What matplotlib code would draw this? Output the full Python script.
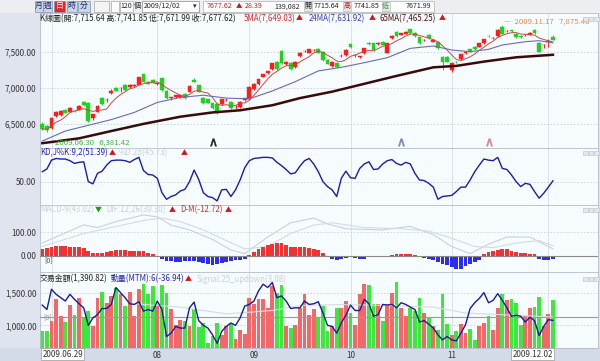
import matplotlib
matplotlib.use('Agg')
import matplotlib.pyplot as plt
import numpy as np
import pandas as pd
from matplotlib.patches import Rectangle

plt.rcParams['font.family'] = ['Noto Sans CJK TC', 'DejaVu Sans']

W, H = 600, 361

# ---------------- data ----------------
opens = [6498,6470,6438,6610,6620,6694,6670,6685,6694,6810,
         6796,6578,6670,6866,6835,6927,6997,7000,7043,7010,
         7035,7043,7193,7080,7110,7060,7137,6964,6865,6870,
         6875,6920,6950,7113,7043,6857,6843,6787,6778,6778,
         6835,6810,6735,6730,6834,6848,6983,7057,7160,7206,
         7262,7369,7522,7335,7355,7290,7448,7520,7495,7528,
         7541,7509,7392,7308,7355,7445,7462,7611,7460,7437,
         7486,7634,7625,7622,7648,7495,7695,7788,7742,7756,
         7821,7775,7709,7670,7742,7649,7649,7439,7439,7253,
         7369,7402,7493,7541,7579,7579,7625,7730,7698,7728,
         7860,7798,7802,7756,7728,7740,7742,7812,7634,7600,
         7644,7715.64]
highs = [6530,6490,6590,6680,6690,6705,6730,6700,6760,6820,
         6800,6640,6760,6880,6860,6990,7010,7015,7060,7060,
         7055,7155,7200,7100,7120,7075,7140,6970,6880,6905,
         6910,6930,7040,7140,7050,6870,6850,6795,6785,6850,
         6855,6820,6760,6815,6865,7025,7065,7130,7200,7245,
         7350,7380,7530,7375,7365,7375,7500,7535,7550,7545,
         7555,7515,7400,7375,7360,7470,7540,7620,7480,7455,
         7560,7645,7630,7640,7655,7630,7735,7795,7770,7795,
         7830,7785,7715,7690,7750,7680,7655,7445,7450,7350,
         7375,7480,7505,7550,7590,7630,7690,7745,7715,7820,
         7875.46,7815,7815,7770,7740,7755,7780,7830,7640,7620,
         7690,7741.85]
lows = [6420,6381.42,6430,6600,6610,6645,6660,6665,6690,6755,
        6530,6560,6665,6770,6800,6920,6955,6950,6965,7000,
        7020,7040,7085,7055,7065,7040,6965,6850,6830,6860,
        6865,6850,6945,7085,6940,6780,6790,6710,6640,6770,
        6820,6710,6710,6725,6825,6845,6975,7050,7150,7200,
        7255,7255,7340,7325,7255,7285,7440,7505,7490,7515,
        7490,7385,7330,7300,7275,7430,7455,7565,7440,7425,
        7480,7605,7525,7605,7595,7490,7690,7720,7735,7750,
        7760,7720,7620,7655,7690,7640,7550,7250,7360,7230,
        7350,7395,7480,7500,7535,7570,7620,7715,7690,7720,
        7750,7785,7790,7700,7700,7730,7735,7760,7500,7560,
        7580,7671.99]
closes = [6430,6415,6578,6666,6680,6652,6718,6680,6750,6764,
          6544,6634,6750,6778,6840,6960,6964,7005,6973,7050,
          7040,7150,7090,7060,7070,7062,6973,6857,6870,6900,
          6905,6860,7030,7090,6950,6787,6797,6717,6647,6843,
          6840,6717,6740,6810,6857,7020,7057,7122,7197,7240,
          7346,7262,7346,7369,7262,7369,7495,7523,7541,7530,
          7495,7392,7337,7369,7299,7448,7532,7569,7462,7439,
          7555,7611,7532,7625,7602,7625,7728,7728,7765,7788,
          7765,7728,7625,7672,7695,7672,7555,7369,7369,7346,
          7360,7476,7495,7509,7541,7625,7681,7728,7702,7812,
          7756,7800,7800,7709,7709,7742,7775,7765,7509,7602,
          7662,7677.62]

ma24_idx = [0, 5, 10, 15, 20, 25, 30, 35, 40, 45, 50, 55, 60, 65, 70, 75,
            80, 85, 89, 93, 97, 100, 105, 108, 111]
ma24_val = [6260, 6400, 6480, 6560, 6660, 6800, 6870, 6900, 6860, 6850, 6960,
            7090, 7240, 7290, 7355, 7425, 7555, 7588, 7532, 7509, 7541, 7602,
            7648, 7662, 7631.92]
ma65_idx = [0, 8, 15, 22, 30, 37, 43, 50, 56, 63, 70, 77, 85, 90, 96, 103, 111]
ma65_val = [6230, 6298, 6400, 6500, 6600, 6660, 6690, 6760, 6860, 6950, 7060,
            7170, 7290, 7310, 7370, 7430, 7465.25]

k_vals = [68,73,89,92,91,91,88,83,85,86,
          50,46,65,69,80,88,89,89,88,85,
          90,94,70,63,62,56,30,18,23,26,
          33,36,50,71,54,30,23,21,15,35,
          36,23,35,53,75,88,92,93,94,94,
          93,85,79,72,64,66,78,88,92,82,
          68,50,41,35,23,56,69,57,56,74,
          82,86,72,73,82,88,90,83,80,85,
          82,65,53,52,47,40,18,23,24,25,
          32,40,40,53,68,80,91,89,88,94,
          74,72,62,50,41,47,45,32,20,29,
          40,51.39]

osc_vals = [28,32,37,42,43,42,40,37,37,35,
            21,14,13,14,16,20,25,25,25,23,
            21,21,20,12,8,-2,-14,-20,-22,-24,
            -24,-22,-20,-22,-26,-30,-34,-36,-33,-30,
            -25,-22,-18,-16,-12,5,15,28,38,46,
            52,54,53,46,40,37,37,37,35,30,
            24,14,-4,-14,-15,-14,-9,-6,-10,-11,
            -11,-2,-1,0,-1,0,4,8,10,10,
            8,4,-5,-8,-12,-18,-25,-32,-40,-48,
            -55,-53,-44,-33,-24,-16,8,16,22,26,
            30,28,22,16,12,11,10,8,-14,-16,
            -15,-12.72]
dif_idx = [0, 9, 12, 16, 22, 25, 28, 32, 37, 41, 44, 49, 54, 59, 62, 66,
           74, 80, 85, 89, 93, 97, 101, 106, 111]
dif_val = [55, 131, 120, 145, 173, 165, 130, 110, 70, 25, 10, 80, 140, 160,
           135, 115, 110, 125, 90, 40, 10, 50, 80, 80, 30.30]
sig_idx = [0, 9, 15, 22, 26, 30, 35, 40, 44, 49, 54, 59, 63, 70, 78, 84,
           89, 94, 98, 103, 108, 111]
sig_val = [40, 95, 120, 150, 160, 145, 110, 65, 30, 40, 95, 130, 140, 120,
           115, 105, 75, 40, 35, 55, 65, 43.02]

volume = [906,906,1064,1405,1142,1053,1316,1169,1422,1117,
          1221,995,1422,1526,1353,1459,1589,1484,1301,1526,
          1142,1563,1642,1484,1616,1306,1631,1511,1248,1012,
          1090,1064,985,1248,969,1037,727,832,1037,853,
          995,1037,790,933,865,1432,1337,1405,1405,1266,
          1616,1510,1631,985,958,1012,1274,1494,1159,1248,
          1127,1301,906,985,1274,1274,1380,1196,1001,1494,
          1647,1631,1327,1327,1074,1337,1511,1674,1264,1142,
          1274,1221,1422,1196,1117,985,933,1484,1022,853,
          906,1022,880,948,774,985,1037,1142,921,1264,
          1494,1390,1405,1343,1012,1142,1274,1285,1448,985,
          1179,1390.82]
mtm = [144,92,332,272,232,192,272,212,160,112,
       -96,-8,32,104,104,152,352,292,232,160,
       152,184,72,92,72,192,92,-228,-188,-108,
       -128,-128,112,180,-40,-96,-128,-208,-308,-168,
       -108,-68,-96,-8,132,152,192,312,392,352,
       412,232,252,192,104,112,112,192,152,160,
       184,52,-96,-108,-188,-68,24,144,80,80,
       212,160,12,32,152,144,152,112,172,152,
       120,92,-56,-40,-80,-128,-208,-268,-228,-268,
       -280,-188,-88,104,172,224,292,172,200,280,
       200,112,12,24,12,-56,0,-40,-216,-108,
       -28,-36.94]
mtm_sig_idx = [20, 30, 40, 50, 56, 65, 75, 85, 92, 100, 111]
mtm_sig_val = [160, 120, 40, 80, 140, 150, 140, 120, 50, 30, 3.08]

grid_idx = [2, 25, 45, 67, 89, 110]
month_idx = [25, 46, 67, 89]
month_labels = ['08', '09', '10', '11']
first_label, last_label = '2009.06.29', '2009.12.02'
signal_idx = [37, 78, 97]
signal_cols = ['#222222', '#7a88b0', '#e08090']

# ---------------- figure ----------------
fig = plt.figure(figsize=(W / 100, H / 100), dpi=100)
fig.patch.set_facecolor('#dfe4ee')


def rect(x0, y0, x1, y1, fc, ec='none', lw=0.5, z=0):
    fig.add_artist(Rectangle((x0 / W, 1 - y1 / H), (x1 - x0) / W, (y1 - y0) / H,
                             transform=fig.transFigure, facecolor=fc,
                             edgecolor=ec, lw=lw, zorder=z))


HS = 5.7


def ftext(x, y, s, color='#222222', size=HS, ha='left', **kw):
    fig.text(x / W, 1 - y / H, s, color=color, fontsize=size, ha=ha,
             va='center', **kw)


# toolbar band and bottom band
rect(0, 0, 600, 12.5, '#eceef2')
rect(0, 348, 600, 361, '#d3dbe9')

X0, X1 = 40, 598


def add_ax(y0, y1):
    ax = fig.add_axes([X0 / W, 1 - y1 / H, (X1 - X0) / W, (y1 - y0) / H])
    ax.set_facecolor('#f6fbfd')
    ax.set_xlim(-0.5, 120.8)
    ax.set_xticks([])
    for s in ax.spines.values():
        s.set_color('#b4bccb')
        s.set_linewidth(0.6)
    ax.tick_params(axis='y', length=0, pad=2.5, labelsize=5.8,
                   labelcolor='#333333')
    for g in grid_idx:
        ax.axvline(g, color='#d9dee6', lw=0.6, zorder=0)
    return ax


ax1 = add_ax(13, 148)
ax2 = add_ax(148, 205)
ax3 = add_ax(205, 272)
ax4 = add_ax(272, 348)

N = len(closes)
x = np.arange(N)
o = np.array(opens, float)
c = np.array(closes, float)
hi = np.array(highs, float)
lo = np.array(lows, float)
up = c >= o

# ----- panel 1: candles -----
ax1.set_ylim(6163, 8049)
ax1.set_yticks([6500, 7000, 7500])
ax1.set_yticklabels(['6,500.00', '7,000.00', '7,500.00'])
for v in [6500, 7000, 7500]:
    ax1.axhline(v, color='#c9d1da', lw=0.6, ls=(0, (2, 2)), zorder=0)
ccol = np.where(up, '#ff1c1c', '#1ed21e')
ax1.vlines(x, lo, hi, colors=ccol, lw=0.7, zorder=3)
body_b = np.minimum(o, c)
body_h = np.maximum(np.abs(c - o), 5)
ax1.bar(x, body_h, bottom=body_b, width=0.8, color=ccol, edgecolor=ccol,
        lw=0.3, zorder=4)
ma5 = pd.Series(c).rolling(5, min_periods=1).mean()
ax1.plot(x, ma5, color='#c84848', lw=0.7, zorder=5)
ax1.plot(ma24_idx, ma24_val, color='#6a6ab8', lw=0.8, zorder=5)
ax1.plot(ma65_idx, ma65_val, color='#3a0a0a', lw=1.8, zorder=5)
for si, sc in zip(signal_idx, signal_cols):
    ax1.scatter([si], [6240], marker=r'$\wedge$', s=28, color=sc, lw=0.4,
                zorder=6)

# ----- panel 2: KD -----
ax2.set_ylim(7.6, 111)
ax2.set_yticks([50])
ax2.set_yticklabels(['50.00'])
ax2.axhline(50, color='#c9d1da', lw=0.6, ls=(0, (2, 2)), zorder=0)
ax2.plot(x, k_vals, color='#1c1ca8', lw=1.0)

# ----- panel 3: MACD -----
ax3.set_ylim(-67.5, 215)
ax3.set_yticks([0, 100])
ax3.set_yticklabels(['0.00', '100.00'])
ax3.axhline(100, color='#c9d1da', lw=0.6, ls=(0, (2, 2)), zorder=0)
osc = np.array(osc_vals, float)
ax3.bar(x, osc, width=0.8, color=np.where(osc >= 0, '#f03232', '#2c2cea'),
        zorder=2)
ax3.axhline(0, color='#8a8a8a', lw=0.8, zorder=3)
ax3.plot(dif_idx, dif_val, color='#c7d2de', lw=0.8, zorder=1)
ax3.plot(sig_idx, sig_val, color='#d2dbe5', lw=0.8, zorder=1)
ax3.text(0.5, 0, '[0]', fontsize=5, color='#555555', va='top', ha='left',
         transform=ax3.transData, zorder=5)

# ----- panel 4: volume + MTM -----
ax4.set_ylim(648, 1831)
ax4.set_yticks([1000, 1500])
ax4.set_yticklabels(['1,000.00', '1,500.00'])
for v in [1000, 1500]:
    ax4.axhline(v, color='#c9d1da', lw=0.6, ls=(0, (2, 2)), zorder=0)
vcol = np.where(up, '#f26868', '#3ce83c')
ax4.bar(x, volume, width=0.84, color=vcol, zorder=2)
ax4b = ax4.twinx()
ax4b.set_ylim(-364, 536)
ax4b.set_yticks([])
ax4b.set_xlim(-0.5, 120.8)
for s in ax4b.spines.values():
    s.set_visible(False)
ax4b.axhline(0, color='#9a9a9a', lw=0.8, zorder=3)
ax4b.plot(mtm_sig_idx, mtm_sig_val, color='#d3dbe4', lw=0.8, zorder=3)
ax4b.plot(x, mtm, color='#1c1c96', lw=1.0, zorder=4)
ax4b.text(0.2, 0, '[0]', fontsize=5, color='#999999', va='center',
          ha='left', zorder=5)

# x labels
ax4.set_xticks(month_idx)
ax4.set_xticklabels(month_labels)
ax4.tick_params(axis='x', length=0, pad=2.5, labelsize=5.8,
                labelcolor='#333333')
bb = dict(boxstyle='square,pad=0.15', fc='white', ec='#9a9a9a', lw=0.5)
ax4.text(0, -0.08, first_label, transform=ax4.get_xaxis_transform(),
         fontsize=5.8, color='#333333', ha='left', va='center', bbox=bb)
ax4.text(N - 1, -0.08, last_label, transform=ax4.get_xaxis_transform(),
         fontsize=5.8, color='#333333', ha='right', va='center', bbox=bb)

# ----- toolbar -----
TS = 5.1
btn = [('月', 34.5, 42.5), ('週', 43, 52), ('日', 53.5, 65), ('時', 66.5, 77),
       ('分', 78, 90)]
for t, a, b in btn:
    red = t == '日'
    rect(a, 1, b, 11.5, '#e02626' if red else '#c9d5ea', '#7f8da8', 0.5, z=2)
    ftext((a + b) / 2, 6.3, t, color='white' if red else '#1a2a60', size=5.6,
          ha='center', zorder=3)
rect(94, 1, 109, 11.5, '#f4f4f4', '#a8a8a8', 0.5, z=2)
rect(111, 1, 119, 11.5, '#ffffff', '#a8a8a8', 0.5, z=2)
rect(120, 1, 132.5, 11.5, '#ffffff', '#a8a8a8', 0.5, z=2)
ftext(132, 6.3, '120', size=TS, ha='right', zorder=3)
ftext(133.5, 6.3, '個', size=TS, zorder=3)
rect(142, 1, 199, 11.5, '#ffffff', '#8a8a8a', 0.5, z=2)
ftext(143.5, 6.3, '2009/12/02', size=TS, zorder=3)
ftext(195, 6.3, '▾', size=TS, ha='center', zorder=3)
rect(203, 1, 434, 11.5, '#ffffff', '#b0b0b0', 0.5, z=2)
ftext(207, 6.3, '7677.62', color='#d01818', size=TS, zorder=3)
ftext(238.5, 6.3, '▲', color='#d01818', size=4.6, ha='center', zorder=3)
ftext(245, 6.3, '28.39', color='#d01818', size=TS, zorder=3)
ftext(274, 6.3, '139,082', color='#222222', size=TS, zorder=3)
rect(304, 1.5, 311.5, 11, '#e6e6e6', '#b0b0b0', 0.4, z=3)
ftext(307.8, 6.3, '開', size=5.0, ha='center', zorder=4)
ftext(314, 6.3, '7715.64', size=TS, zorder=3)
rect(343, 1.5, 350.5, 11, '#e6e6e6', '#b0b0b0', 0.4, z=3)
ftext(346.8, 6.3, '高', color='#d01818', size=5.0, ha='center', zorder=4)
ftext(354, 6.3, '7741.85', size=TS, zorder=3)
rect(382, 1.5, 389.5, 11, '#e6e6e6', '#b0b0b0', 0.4, z=3)
ftext(385.8, 6.3, '低', color='#20a020', size=5.0, ha='center', zorder=4)
ftext(406, 6.3, '7671.99', size=TS, zorder=3)

# ----- panel headers -----
ftext(40.5, 18.4, 'K線圖(開:7,715.64 高:7,741.85 低:7,671.99 收:7,677.62)',
      color='#222222')
ftext(244, 18.4, '5MA(7,649.03)', color='#d02c2c')
ftext(299, 18.4, '▲', color='#d01818', size=5.0, ha='center')
ftext(309, 18.4, '24MA(7,631.92)', color='#3a3ab0')
ftext(372, 18.4, '▲', color='#d01818', size=5.0, ha='center')
ftext(379, 18.4, '65MA(7,465.25)', color='#4a1010')
ftext(442, 18.4, '▲', color='#d01818', size=5.0, ha='center')
ftext(504, 21.5, '—  2009.11.17   7,875.46', color='#e08a48', size=5.6)
ftext(55, 142.7, '2009.06.30   6,381.42', color='#48b048', size=5.6)

ftext(40.5, 153, 'KD,J%K:9,2(51.39)', color='#2828a8')
ftext(112, 153, '▲', color='#d01818', size=5.0, ha='center')
ftext(119, 153, '%D:2d(45.73)', color='#c9d1dc')
ftext(184, 153, '▲', color='#d01818', size=5.0, ha='center')

ftext(40.5, 210, 'MACD-9(43.02)', color='#c9d1dc')
ftext(98, 210, '▼', color='#18a018', size=5.0, ha='center')
ftext(106, 210, 'DIF:12,26(30.30)', color='#c9d1dc')
ftext(172, 210, '▲', color='#d01818', size=5.0, ha='center')
ftext(180, 210, 'D-M(-12.72)', color='#d03030')
ftext(228, 210, '▲', color='#d01818', size=5.0, ha='center')

ftext(40, 279, '交易金額(1,390.82)', color='#222222')
ftext(111, 279, '動量(MTM):6(-36.94)', color='#2828a8')
ftext(188, 279, '▲', color='#d01818', size=5.0, ha='center')
ftext(197, 279, 'Signal:25_updown(3.08)', color='#c9d1dc')

# small window icons at top right of panels
for yy in [19, 153, 210, 279]:
    for xx in [583, 588.5, 594]:
        rect(xx, yy - 2.3, xx + 4.6, yy + 2.3, '#e4e8ee', '#b8bec8', 0.4, z=5)

fig.savefig('out.png', dpi=100, facecolor=fig.get_facecolor())
